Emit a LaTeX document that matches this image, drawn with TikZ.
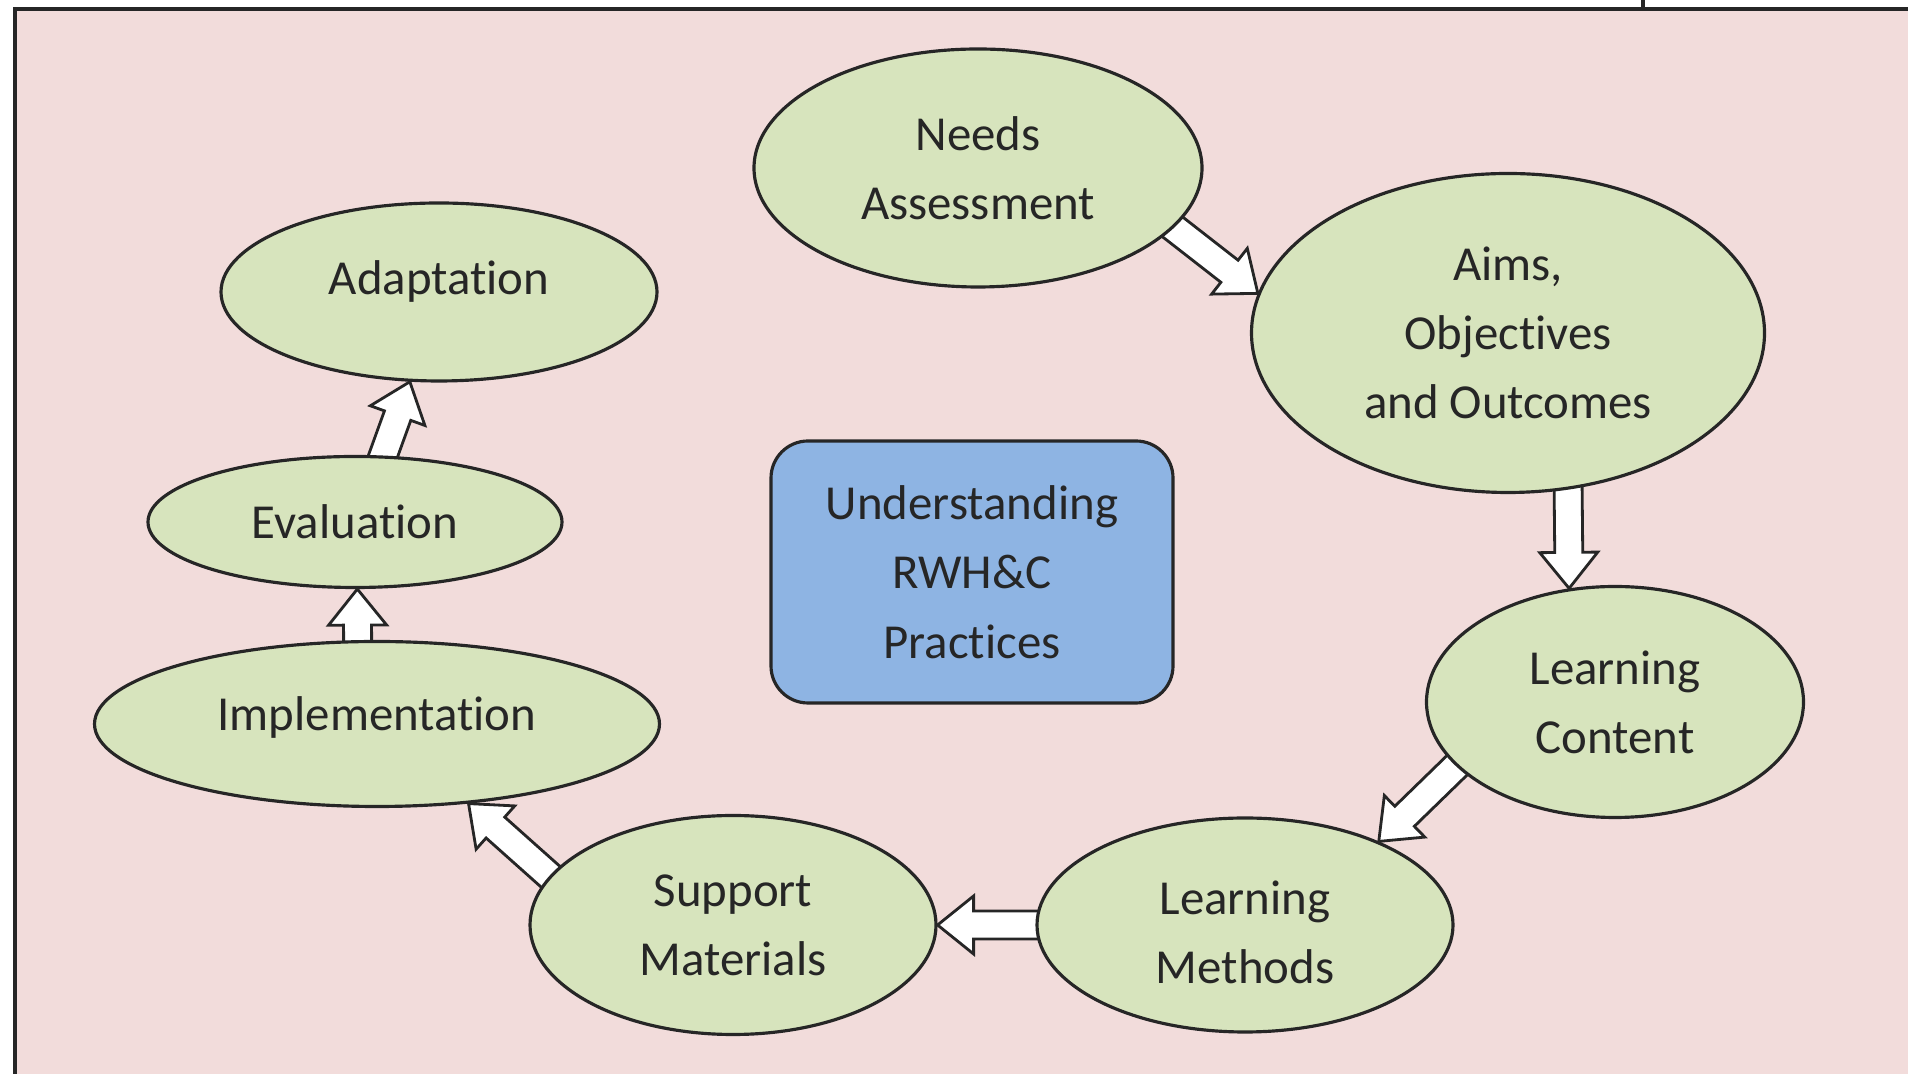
\documentclass[tikz,border=0pt]{standalone}
\usepackage{fontspec}
\setmainfont{Carlito}[Ligatures=NoCommon]
\usetikzlibrary{calc,backgrounds,shapes.geometric}
\definecolor{rosebg}{HTML}{F2DCDB}
\definecolor{stagegreen}{HTML}{D7E4BD}
\definecolor{corebox}{HTML}{8EB4E3}
\definecolor{inkgray}{HTML}{262626}
\newcommand{\blockarrow}[2]{%
    \coordinate (base) at ($(#1)!-4pt!(#2)$);
    \coordinate (neck) at ($(#2)!.36cm!(#1)$);
    \draw[flow] ($(base)!.14cm!90:(#2)$) -- ($(neck)!.14cm!90:(#2)$) -- ($(neck)!.29cm!90:(#2)$) -- (#2)
        -- ($(neck)!.29cm!-90:(#2)$) -- ($(neck)!.14cm!-90:(#2)$) -- ($(base)!.14cm!-90:(#2)$) -- cycle;}
\begin{document}
\begin{tikzpicture}[
    stage/.style={ellipse, draw=inkgray, line width=.9pt, fill=stagegreen, inner sep=0pt, align=center,
        text=inkgray, font=\fontsize{13.9}{19.7}\selectfont},
    flow/.style={draw=inkgray, line width=.8pt, fill=white, line join=miter}]
    \useasboundingbox (0,0) rectangle (19.08,10.74);
    \node[stage, minimum width=4.48cm, minimum height=2.38cm] (needs) at (9.78,9.06) {Needs\\Assessment};
    \node[stage, minimum width=5.13cm, minimum height=3.19cm] (aims) at (15.08,7.41) {Aims,\\Objectives\\and Outcomes};
    \node[stage, minimum width=3.77cm, minimum height=2.31cm] (content) at (16.15,3.72) {Learning\\Content};
    \node[stage, minimum width=4.16cm, minimum height=2.14cm] (methods) at (12.45,1.49)
        {\raisebox{-.07cm}[\height][\depth]{Learning}\\\raisebox{-.07cm}[\height][\depth]{Methods}};
    \node[stage, minimum width=4.06cm, minimum height=2.19cm] (support) at (7.33,1.49) {Support\\Materials};
    \node[stage, minimum width=5.65cm, minimum height=1.65cm] (implement) at (3.77,3.50)
        {\raisebox{.07cm}[\height][\depth]{Implementation}};
    \node[stage, minimum width=4.14cm, minimum height=1.31cm] (evaluate) at (3.55,5.52) {Evaluation};
    \node[stage, minimum width=4.36cm, minimum height=1.78cm] (adapt) at (4.39,7.82)
        {\raisebox{.11cm}[\height][\depth]{Adaptation}};
    \node[draw=inkgray, line width=.9pt, fill=corebox, rounded corners=.37cm, minimum width=4.02cm,
        minimum height=2.62cm, align=center, text=inkgray, font=\fontsize{13.9}{19.7}\selectfont]
        (core) at (9.72,5.02) {Understanding\\RWH\&C\\Practices};
    \begin{scope}[on background layer]
        \fill[rosebg] (.15,0) rectangle (19.08,10.65);
        \draw[line width=1pt, inkgray] (.15,0) -- (.15,10.65) -- (19.08,10.65);
        \draw[line width=1pt, inkgray] (16.43,10.65) -- (16.43,10.74);
        \foreach \a/\b in {needs.-17/aims.171, aims.-69/content.112, content.202/methods.32,
            methods.180/support.0, support.165/implement.-41, implement.103/evaluate.-88, evaluate.67/adapt.-108}
            {\blockarrow{\a}{\b}}
    \end{scope}
\end{tikzpicture}
\end{document}
